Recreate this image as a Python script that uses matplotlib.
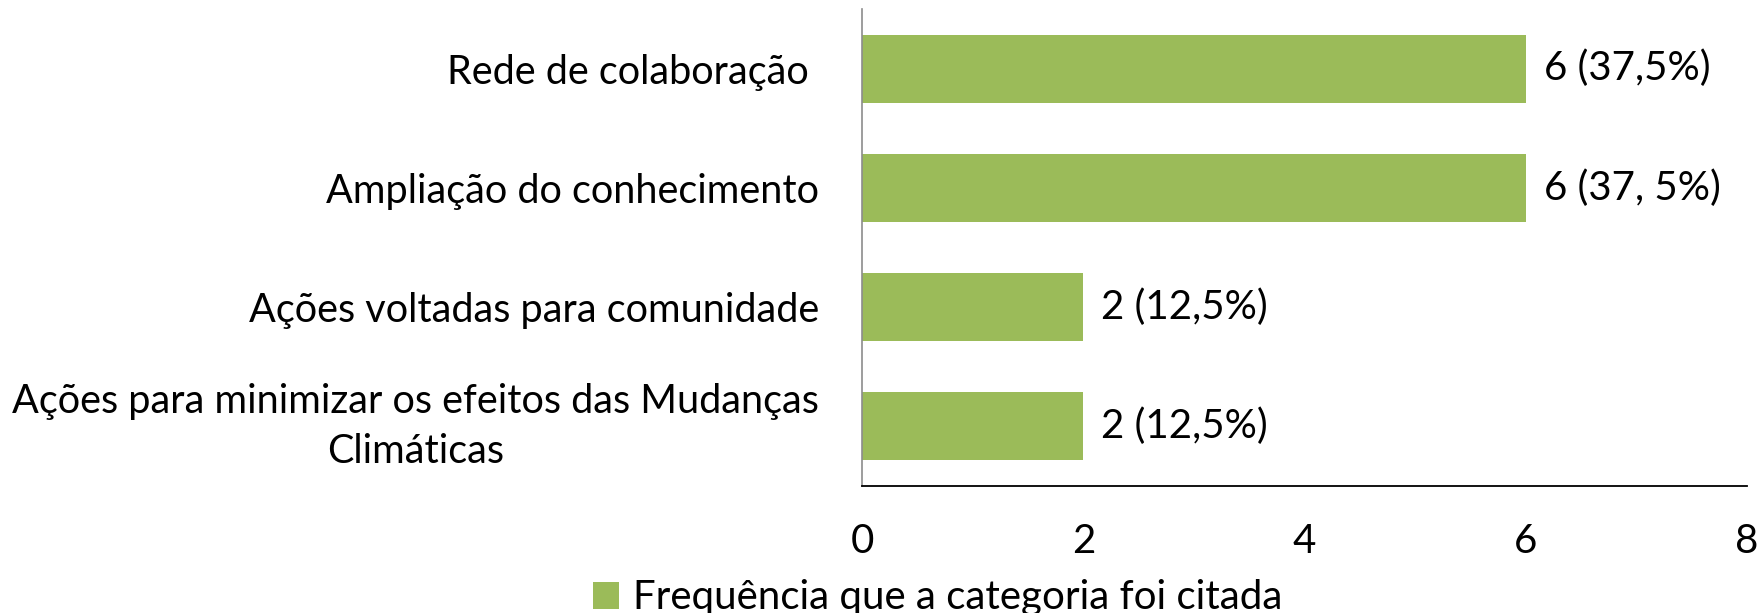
import matplotlib
matplotlib.use("Agg")
import matplotlib.pyplot as plt

# categories listed top to bottom as in the chart
categories = [
    "Rede de colaboração ",
    "Ampliação do conhecimento",
    "Ações voltadas para comunidade",
    "Ações para minimizar os efeitos das Mudanças\nClimáticas",
]
counts = [6, 6, 2, 2]
value_labels = ["6 (37,5%)", "6 (37, 5%)", "2 (12,5%)", "2 (12,5%)"]
x_ticks = [0, 2, 4, 6, 8]
series_name = "Frequência que a categoria foi citada"

BAR_COLOR = "#9BBB59"

plt.rcParams["font.family"] = ["Lato", "DejaVu Sans"]

fig = plt.figure(figsize=(17.64, 6.13), dpi=100)
ax = fig.add_axes([0.4887, 0.2072, 0.5017, 0.7781])

pos = list(range(len(categories)))
ax.barh(pos, counts, height=0.57, color=BAR_COLOR, label=series_name)
ax.set_ylim(len(categories) - 0.5, -0.5)
ax.set_xlim(0, 8)

for y, c, lab in zip(pos, counts, value_labels):
    ax.annotate(lab, (c, y), xytext=(13, 0), textcoords="offset points",
                va="center", ha="left", fontsize=29)

ax.set_yticks(pos)
ylabels = ax.set_yticklabels(categories, fontsize=28.5, multialignment="center",
                             linespacing=1.45)
ylabels[-1].set_va("center")  # two-line label, keep it centred on the bar
ax.set_xticks(x_ticks)
ax.set_xticklabels([str(t) for t in x_ticks], fontsize=29)
ax.tick_params(axis="y", length=0, pad=31)
ax.tick_params(axis="x", length=0, pad=27)

for s in ["top", "right"]:
    ax.spines[s].set_visible(False)
ax.spines["left"].set_color("#8C8C8C")
ax.spines["left"].set_linewidth(1.2)
ax.spines["bottom"].set_color("black")
ax.spines["bottom"].set_linewidth(1.3)

ax.legend(loc="center", bbox_to_anchor=(938 / 1764, 1 - 598 / 613),
          bbox_transform=fig.transFigure, frameon=False, fontsize=29,
          handlelength=0.65, handleheight=0.65, handletextpad=0.35)

fig.savefig("out.png", dpi=100)
